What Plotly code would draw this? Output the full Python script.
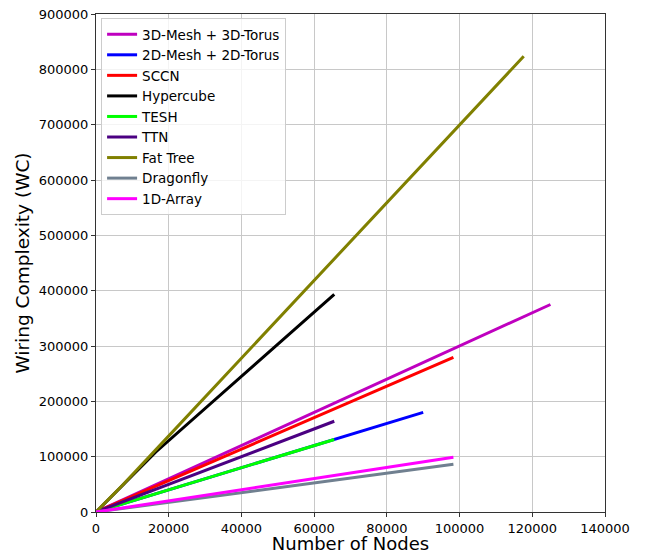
import plotly.graph_objects as go

names = ["3D-Mesh + 3D-Torus", "2D-Mesh + 2D-Torus", "SCCN", "Hypercube", "TESH",
         "TTN", "Fat Tree", "Dragonfly", "1D-Array"]
colors = ["#BF00BF", "#0000FF", "#FF0000", "#000000", "#00FF00",
          "#4B0082", "#808000", "#708090", "#FF00FF"]

mesh3d_x = [0, 1000, 8000, 27000, 64000, 125000]
mesh3d_y = [0, 3000, 24000, 81000, 192000, 375000]

mesh2d_x = [0, 10000, 40000, 90000]
mesh2d_y = [0, 20000, 80000, 180000]

sccn_x = [0, 6144, 24576, 98304]
sccn_y = [0, 17400, 69800, 279500]

hyper_x = [0, 4096, 16384, 65536]
hyper_y = [0, 27000, 108000, 393216]

tesh_x = [0, 4096, 16384, 65536]
tesh_y = [0, 8192, 32768, 131072]

ttn_x = [0, 4096, 16384, 65536]
ttn_y = [0, 10240, 40960, 164000]

fat_x = [0, 7203, 16807, 117649]
fat_y = [0, 48000, 115000, 823543]

dragon_x = [0, 6144, 24576, 98304]
dragon_y = [0, 5400, 21600, 86200]

array1d_x = [0, 6144, 24576, 98304]
array1d_y = [0, 6180, 24700, 98800]

xs = [mesh3d_x, mesh2d_x, sccn_x, hyper_x, tesh_x, ttn_x, fat_x, dragon_x, array1d_x]
ys = [mesh3d_y, mesh2d_y, sccn_y, hyper_y, tesh_y, ttn_y, fat_y, dragon_y, array1d_y]

x_ticks = [0, 20000, 40000, 60000, 80000, 100000, 120000, 140000]
y_ticks = [0, 100000, 200000, 300000, 400000, 500000, 600000, 700000, 800000, 900000]

fig = go.Figure()
for n, c, x, y in zip(names, colors, xs, ys):
    fig.add_trace(go.Scatter(x=x, y=y, mode="lines", name=n,
                             line=dict(color=c, width=3)))

font = "DejaVu Sans, sans-serif"
fig.update_layout(
    width=641, height=546,
    margin=dict(l=88, r=44, t=6, b=42),
    paper_bgcolor="white", plot_bgcolor="white",
    font=dict(family=font, size=13, color="black"),
    showlegend=True,
    legend=dict(x=0.01, y=0.992, xanchor="left", yanchor="top",
                bgcolor="rgba(255,255,255,0.8)", bordercolor="#cccccc", borderwidth=1,
                font=dict(family=font, size=13.5, color="black"),
                tracegroupgap=0),
)
fig.update_xaxes(range=[0, 140000], tickvals=x_ticks, ticktext=[str(v) for v in x_ticks],
                 automargin=False, ticklabeloverflow="allow",
                 showgrid=True, gridcolor="#c8c8c8", gridwidth=1,
                 showline=True, linecolor="#333333", linewidth=1, mirror=True,
                 ticks="outside", ticklen=4, tickcolor="#333333",
                 zeroline=False,
                 title=dict(text="Number of Nodes", font=dict(family=font, size=18), standoff=3),
                 tickfont=dict(family=font, size=13))
fig.update_yaxes(range=[0, 900000], tickvals=y_ticks, ticktext=[str(v) for v in y_ticks],
                 automargin=False, ticklabeloverflow="allow",
                 showgrid=True, gridcolor="#c8c8c8", gridwidth=1,
                 showline=True, linecolor="#333333", linewidth=1, mirror=True,
                 ticks="outside", ticklen=4, tickcolor="#333333",
                 zeroline=False,
                 title=dict(text="Wiring Complexity (WC)", font=dict(family=font, size=18.5), standoff=4),
                 tickfont=dict(family=font, size=13))

fig.write_html("out.html")
